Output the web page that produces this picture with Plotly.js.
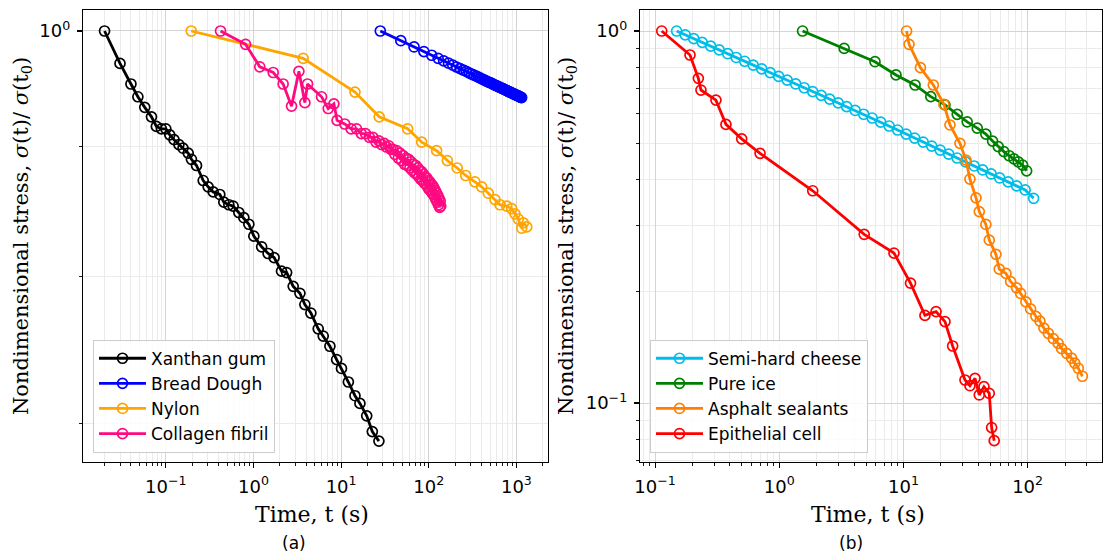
<!DOCTYPE html>
<html><head><meta charset="utf-8">
<script src="https://cdn.plot.ly/plotly-3.0.1.min.js"></script>
<style>html,body{margin:0;padding:0;background:#fff;}#chart{width:1103px;height:554px;}</style>
</head><body><div id="chart"></div>
<script>
// ---------- Panel (a) data ----------
const xanthanT = [0.020,0.030,0.040,0.048,0.0575,0.0686,0.078,0.089,0.100,0.111,0.124,0.141,0.157,0.180,0.196,0.224,0.267,0.304,0.347,0.413,0.459,0.524,0.586,0.681,0.777,0.886,1.01,1.24,1.47,1.72,2.09,2.39,2.84,3.39,3.86,4.52,5.48,6.25,7.45,8.89,10.1,12.1,14.4,16.4,19.6,22.7,27.0];
const xanthanS = [1.000,0.971,0.953,0.942,0.933,0.925,0.917,0.915,0.915,0.910,0.906,0.902,0.899,0.895,0.890,0.885,0.873,0.868,0.864,0.862,0.856,0.854,0.853,0.848,0.844,0.839,0.830,0.822,0.817,0.814,0.804,0.803,0.793,0.788,0.780,0.774,0.763,0.758,0.751,0.742,0.736,0.727,0.718,0.713,0.705,0.695,0.689];

const doughT = [28,48,68,88,108,128,148,168,188,208,228,248,268,288,308,328,348,368,388,408,428,448,468,488,508,528,548,568,588,608,628,648,668,688,708,728,748,768,788,808,828,848,868,888,908,928,948,968,988,1008,1028,1048,1068,1088,1108,1128,1148];
const doughS = [1.000,0.9912,0.9856,0.9815,0.9782,0.9755,0.9732,0.9712,0.9694,0.9678,0.9664,0.9651,0.9639,0.9627,0.9617,0.9607,0.9598,0.9589,0.9581,0.9573,0.9565,0.9558,0.9551,0.9545,0.9539,0.9533,0.9527,0.9521,0.9516,0.9511,0.9506,0.9501,0.9496,0.9492,0.9487,0.9483,0.9479,0.9474,0.9471,0.9467,0.9463,0.9459,0.9456,0.9452,0.9449,0.9445,0.9442,0.9439,0.9436,0.9433,0.9430,0.9427,0.9424,0.9421,0.9418,0.9415,0.9413];

const nylonT = [0.195,3.69,14.4,27.2,57.4,83,123,163,211,264,336,402,478,570,650,775,884,964,1052,1150,1200,1312];
const nylonS = [1.000,0.9755,0.946,0.925,0.915,0.904,0.897,0.889,0.883,0.877,0.872,0.868,0.863,0.858,0.854,0.853,0.851,0.847,0.843,0.836,0.840,0.837];

const collagenT = [0.421,0.813,1.18,1.68,2.18,2.72,3.30,3.86,4.14,5.98,7.13,8.28,
  9,11,13,15,17,19,21,23,25,27,29,31,33,35,37,39,41,43,45,47,49,51,53,55,57,59,61,63,65,67,69,71,73,75,77,79,81,83,85,87,89,91,93,95,97,99,101,103,105,107,109,111,113,115,117,119,121,123,125,127,129,131,133,135,137];
const collagenS = [1.000,0.988,0.968,0.963,0.953,0.934,0.964,0.937,0.953,0.942,0.932,0.936,
  0.922,0.919,0.915,0.915,0.911,0.911,0.908,0.908,0.904,0.905,0.902,0.903,0.900,0.901,0.898,0.898,0.894,0.897,0.891,0.895,0.889,0.893,0.886,0.891,0.885,0.890,0.883,0.888,0.881,0.886,0.879,0.885,0.878,0.883,0.876,0.881,0.874,0.880,0.873,0.878,0.871,0.876,0.870,0.875,0.868,0.873,0.866,0.872,0.865,0.870,0.863,0.869,0.862,0.867,0.860,0.865,0.858,0.863,0.856,0.861,0.854,0.859,0.852,0.857,0.853];

// ---------- Panel (b) data ----------
const cheeseT = [0.149,0.1747,0.2046,0.2395,0.2804,0.3283,0.3843,0.4498,0.5266,0.6166,0.7218,0.845,0.9892,1.158,1.356,1.587,1.858,2.175,2.546,2.982,3.49,4.086,4.783,5.6,6.556,7.674,8.984,10.52,12.31,14.41,16.88,19.76,23.13,27.07,31.7,37.11,43.44,50.85,59.53,69.69,81.58,95.5,111.8];
const cheeseS = [1.000,0.9769,0.9543,0.9322,0.9107,0.8896,0.869,0.8489,0.8292,0.81,0.7913,0.773,0.7551,0.7376,0.7205,0.7038,0.6876,0.6716,0.6561,0.6409,0.626,0.6116,0.5974,0.5836,0.5693,0.5554,0.5418,0.5285,0.5156,0.503,0.4907,0.4787,0.467,0.4556,0.4446,0.4337,0.4231,0.4128,0.4027,0.3929,0.3833,0.3739,0.355];

const iceT = [1.54,3.33,5.90,8.71,12.4,16.6,21.6,27.1,32.6,39.3,46.1,52.2,58.0,64.4,71.1,77.6,84.0,91.2,98.2];
const iceS = [1.000,0.898,0.827,0.762,0.716,0.666,0.633,0.597,0.570,0.548,0.528,0.506,0.489,0.474,0.462,0.453,0.445,0.436,0.421];

const asphaltT = [10.6,11.1,13.7,17.4,21.2,23.7,28.5,31.9,34.3,38.4,40.8,46.1,49.1,55.6,59.1,66.9,73.0,81.5,87.8,96.9,105.6,116.6,125.7,135.3,146.6,160.8,176.3,187.7,206,226,240,256,276];
const asphaltS = [1.000,0.921,0.797,0.716,0.635,0.559,0.499,0.450,0.400,0.356,0.327,0.302,0.274,0.251,0.229,0.223,0.212,0.204,0.197,0.187,0.179,0.171,0.166,0.159,0.154,0.149,0.1446,0.140,0.136,0.132,0.128,0.124,0.118];

const epithT = [0.113,0.191,0.223,0.234,0.309,0.372,0.498,0.700,1.86,4.83,8.39,11.4,14.9,18.3,21.6,24.9,31.3,34.3,37.7,40.8,44.5,49.1,51.3,53.8];
const epithS = [1.000,0.862,0.746,0.694,0.652,0.561,0.513,0.469,0.372,0.284,0.253,0.210,0.172,0.176,0.1655,0.1423,0.1153,0.1113,0.1165,0.1051,0.1106,0.1062,0.0859,0.0792];

// ---------- Tick labels ----------
const xTickExpA = [-1,0,1,2,3];
const xTickExpB = [-1,0,1,2];
const yTickExpA = [0];
const yTickExpB = [-1,0];

function sup(p){ return '10<sup>' + (p<0 ? '\u2212'+Math.abs(p) : p) + '</sup>'; }
function minorVals(d0,d1){ const v=[]; for(let d=d0; d<=d1; d++){ for(let m=2;m<=9;m++) v.push(m*Math.pow(10,d)); } return v; }

const FONT = 'DejaVu Sans, sans-serif';
const SERIF = 'DejaVu Serif, serif';

function tr(name,x,y,color,xa,ya,leg){
  return {x:x,y:y,name:name,type:'scatter',mode:'lines+markers',xaxis:xa,yaxis:ya,legend:leg,legendgroup:name,
    line:{color:color,width:2.8},
    marker:{symbol:'circle-open',size:10,color:color,line:{width:1.7,color:color}}};
}

const traces = [
  tr('Xanthan gum',xanthanT,xanthanS,'#000000','x','y','legend'),
  tr('Bread Dough',doughT,doughS,'#0000ff','x','y','legend'),
  tr('Nylon',nylonT,nylonS,'#ffa500','x','y','legend'),
  tr('Collagen fibril',collagenT,collagenS,'#ff0a80','x','y','legend'),
  tr('Semi-hard cheese',cheeseT,cheeseS,'#00bde8','x2','y2','legend2'),
  tr('Pure ice',iceT,iceS,'#008000','x2','y2','legend2'),
  tr('Asphalt sealants',asphaltT,asphaltS,'#ff8000','x2','y2','legend2'),
  tr('Epithelial cell',epithT,epithS,'#ff0000','x2','y2','legend2')
];

const W=1103,H=554;
function axBase(){
  return {type:'log',showline:true,mirror:true,linecolor:'#000',linewidth:1.2,
    ticks:'outside',ticklen:5,tickwidth:1.1,tickcolor:'#000',ticklabelstandoff:3,
    showgrid:true,gridcolor:'#d4d4d4',gridwidth:1,zeroline:false,
    tickfont:{family:FONT,size:18,color:'#000'},tickmode:'array'};
}
const MINOR = {ticks:'outside',ticklen:3,tickwidth:0.9,tickcolor:'#000',showgrid:true,gridcolor:'#ebebeb',gridwidth:1};
const xa = Object.assign(axBase(),{domain:[83/W,547.5/W],range:[-1.945,3.355],anchor:'y',
  tickvals:xTickExpA.map(p=>Math.pow(10,p)),ticktext:xTickExpA.map(sup),
  minor:Object.assign({tickvals:minorVals(-2,3)},MINOR)});
const ya = Object.assign(axBase(),{domain:[1-461.7/H,1-10/H],range:[-0.1699,0.00828],anchor:'x',
  tickvals:yTickExpA.map(p=>Math.pow(10,p)),ticktext:yTickExpA.map(sup),
  minor:Object.assign({tickvals:minorVals(-1,-1)},MINOR)});
const xb = Object.assign(axBase(),{domain:[640/W,1102/W],range:[-1.1216,2.599],anchor:'y2',
  tickvals:xTickExpB.map(p=>Math.pow(10,p)),ticktext:xTickExpB.map(sup),
  minor:Object.assign({tickvals:minorVals(-2,2)},MINOR)});
const yb = Object.assign(axBase(),{domain:[1-461.7/H,1-10/H],range:[-1.1578,0.0565],anchor:'x2',
  tickvals:yTickExpB.map(p=>Math.pow(10,p)),ticktext:yTickExpB.map(sup),
  minor:Object.assign({tickvals:minorVals(-2,-1)},MINOR)});

const legStyle = {bgcolor:'rgba(255,255,255,0.85)',bordercolor:'#cccccc',borderwidth:1,
  font:{family:FONT,size:17,color:'#000'},xanchor:'left',yanchor:'bottom',
  tracegroupgap:2,itemwidth:47,traceorder:'normal'};

const ylabel = 'Nondimensional stress, <i>σ</i>(t)/ <i>σ</i>(t<sub>0</sub>)';
function ann(text,px,py,size,family,angle){
  return {text:text,x:px/W,y:1-py/H,xref:'paper',yref:'paper',xanchor:'center',yanchor:'middle',
    showarrow:false,textangle:angle||0,font:{family:family,size:size,color:'#000'}};
}
const annotations = [
  ann('Time, t (s)',312,514,22,SERIF),
  ann('Time, t (s)',868,514,22,SERIF),
  ann(ylabel,22,236,21,SERIF,-90),
  ann(ylabel,567,236,21,SERIF,-90),
  ann('(a)',294,543,17,FONT),
  ann('(b)',851,543,17,FONT)
];

const layout = {
  width:W,height:H,margin:{l:0,r:0,t:0,b:0},paper_bgcolor:'#fff',plot_bgcolor:'#fff',
  showlegend:true,
  xaxis:xa,yaxis:ya,xaxis2:xb,yaxis2:yb,
  legend:Object.assign({},legStyle,{x:93/W,y:1-452.7/H}),
  legend2:Object.assign({},legStyle,{x:650/W,y:1-452.7/H}),
  annotations:annotations
};

Plotly.newPlot('chart',traces,layout,{displayModeBar:false,staticPlot:true});
</script>
</body></html>
